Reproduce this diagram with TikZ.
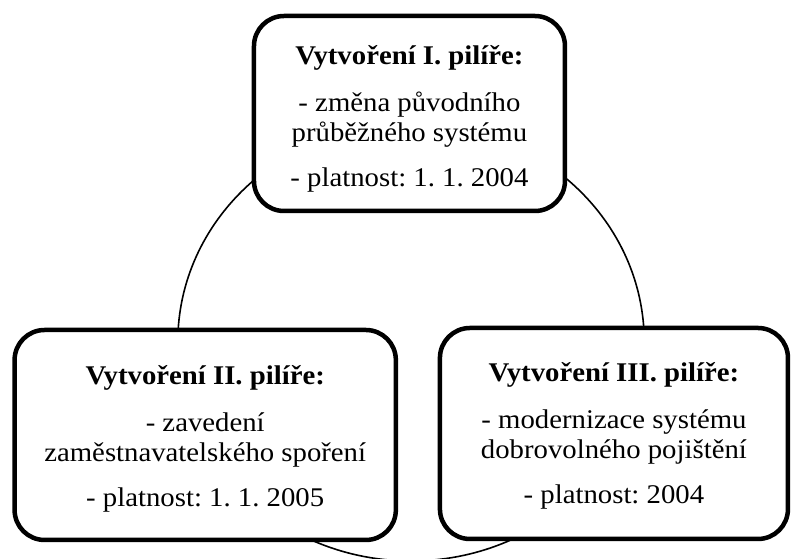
\documentclass[tikz,border=0pt]{standalone}
\usepackage{fontspec}
\setmainfont{Liberation Serif}
\frenchspacing
\usetikzlibrary{positioning}

\begin{document}
\begin{tikzpicture}[
    x=1pt, y=-1pt, xscale=1.065, transform shape,
    pillar/.style={draw, line width=4.5pt, rounded corners=30pt,
                   fill=white, align=center,
                   font=\fontsize{27}{30}\selectfont},
    ring/.style={line width=1.6pt}
  ]
  \useasboundingbox (0,0) rectangle (743.7,559);

  \coordinate (c) at (385.9,342);
  \draw[ring] (c) circle[radius=219];

  \node[pillar, minimum width=292pt, minimum height=195pt] (p1) at (384.5,113.5)
    {\rule{0pt}{30pt}\textbf{Vytvoření I. pilíře:}\\[17pt]
     - změna původního\\ průběžného systému\\[15pt]
     - platnost: 1. 1. 2004};
  \node[pillar, minimum width=358pt, minimum height=210pt] (p2) at (192.7,435)
    {\rule{0pt}{26pt}\textbf{Vytvoření II. pilíře:}\\[17pt]
     - zavedení\\ zaměstnavatelského spoření\\[15pt]
     - platnost: 1. 1. 2005};
  \node[pillar, minimum width=326.8pt, minimum height=211pt] (p3) at (576.5,433.5)
    {\rule{0pt}{24pt}\textbf{Vytvoření III. pilíře:}\\[17pt]
     - modernizace systému\\ dobrovolného pojištění\\[15pt]
     - platnost: 2004};
\end{tikzpicture}
\end{document}
